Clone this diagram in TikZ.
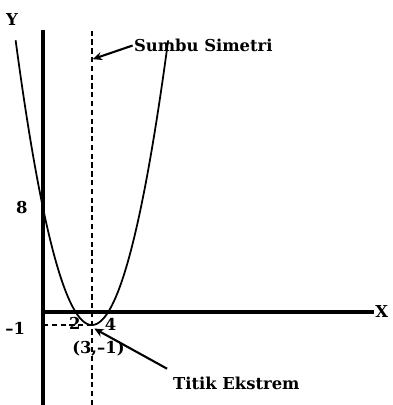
\documentclass[tikz,border=0pt]{standalone}
\usepackage{fontspec}
\setmainfont{DejaVu Serif}
\usetikzlibrary{arrows.meta}
\tikzset{
  lbl/.style={font=\bfseries\fontsize{14}{16}\selectfont, inner sep=1pt},
  axisline/.style={line width=3pt},
  guide/.style={line width=1.8pt, dash pattern=on 4.5pt off 3pt},
  pointer/.style={line width=1.8pt, -{Stealth[length=8pt,width=7pt]}}
}
\begin{document}
\begin{tikzpicture}[x=0.489cm, y=0.39cm]
  \useasboundingbox (-2.638,-7.154) rectangle (21.47,24);
  % axes
  \coordinate (ytop) at (0,21.7);
  \coordinate (ybot) at (0,-7.154);
  \coordinate (xend) at (20.3,0);
  \draw[axisline] (ybot) -- (ytop);
  \draw[axisline] (0,0) -- (xend);
  \node[lbl] (ylab) at (-1.9,22.5) {Y};
  \node[lbl, right=0pt] (xlab) at (xend) {X};
  % symmetry line and vertex
  \coordinate (symtop) at (3,21.7);
  \coordinate (symbot) at (3,-7.154);
  \coordinate (vertex) at (3,-1);
  \coordinate (yminus) at (0,-1);
  \draw[guide] (symbot) -- (symtop);
  \draw[guide] (yminus) -- (vertex);
  % parabola
  \draw[line width=1.5pt, domain=-1.68:7.68, samples=80] plot (\x,{\x*\x-6*\x+8});
  \node[lbl] (eight) at (-1.3,8) {8};
  \node[lbl] (minusone) at (-1.7,-1.25) {–1};
  \node[lbl] (root2) at (1.95,-0.85) {2};
  \node[lbl] (root4) at (4.15,-0.95) {4};
  \node[lbl] (vlab) at (3.4,-2.8) {(3,–1)};
  % labels with pointers
  \node[lbl, anchor=west] (sumbu) at (5.5,20.5) {Sumbu Simetri};
  \coordinate (sumbutip) at (3.05,19.45);
  \draw[pointer] (sumbu.west) -- (sumbutip);
  \node[lbl, anchor=west] (titik) at (7.9,-5.5) {Titik Ekstrem};
  \draw[pointer] ([xshift=-4pt,yshift=6pt]titik.north west) -- ([xshift=2pt,yshift=-3pt]vertex);
\end{tikzpicture}
\end{document}
